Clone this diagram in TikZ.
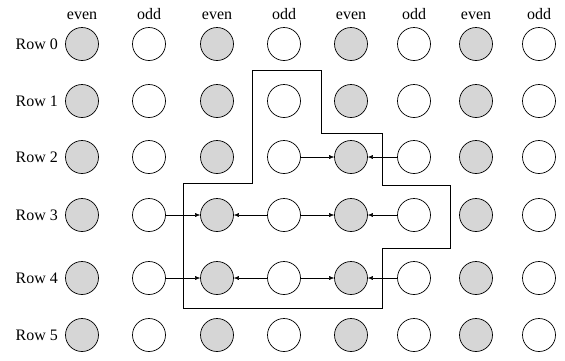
\documentclass[tikz,border=0pt]{standalone}
\usepackage{fontspec}
\setmainfont{Liberation Serif}
\usetikzlibrary{arrows.meta,positioning}

\begin{document}
\begin{tikzpicture}[
  x=1pt, y=-1pt,
  cell/.style={draw, circle, minimum size=33pt, inner sep=0pt, line width=0.7pt},
  evencell/.style={cell, fill=black!16},
  oddcell/.style={cell, fill=white},
  lbl/.style={font=\fontsize{16}{18}\selectfont, inner sep=0pt},
  region/.style={draw, line width=0.8pt},
  >={Latex[length=5pt,width=4pt]}
]
\useasboundingbox (0,0) rectangle (565,360);
\foreach \x [count=\c from 0] in {82,149,217,284,351,414,476,539} {
  \ifodd\c
    \node[lbl, anchor=base] (h-\c) at (\x,19) {odd};
  \else
    \node[lbl, anchor=base] (h-\c) at (\x,19) {even};
  \fi
  \foreach \y [count=\r from 0] in {44,101,157,215,278,335} {
    \ifodd\c
      \node[oddcell] (c-\r-\c) at (\x,\y) {};
    \else
      \node[evencell] (c-\r-\c) at (\x,\y) {};
    \fi
  }
}
\foreach \r in {0,...,5}
  \node[lbl, left=7pt of c-\r-0] (row-\r) {Row \r};
\draw[region] (252,70) -- (321,70) -- (321,133) -- (382,133) -- (382,185)
  -- (450,185) -- (450,248) -- (382,248) -- (382,308) -- (183,308)
  -- (183,183) -- (252,183) -- cycle;
\draw[->] (c-2-3) -- (c-2-4);
\draw[->] (c-2-5) -- (c-2-4);
\foreach \r in {3,4} {
  \draw[->] (c-\r-1) -- (c-\r-2);
  \draw[->] (c-\r-3) -- (c-\r-2);
  \draw[->] (c-\r-3) -- (c-\r-4);
  \draw[->] (c-\r-5) -- (c-\r-4);
}
\end{tikzpicture}
\end{document}
